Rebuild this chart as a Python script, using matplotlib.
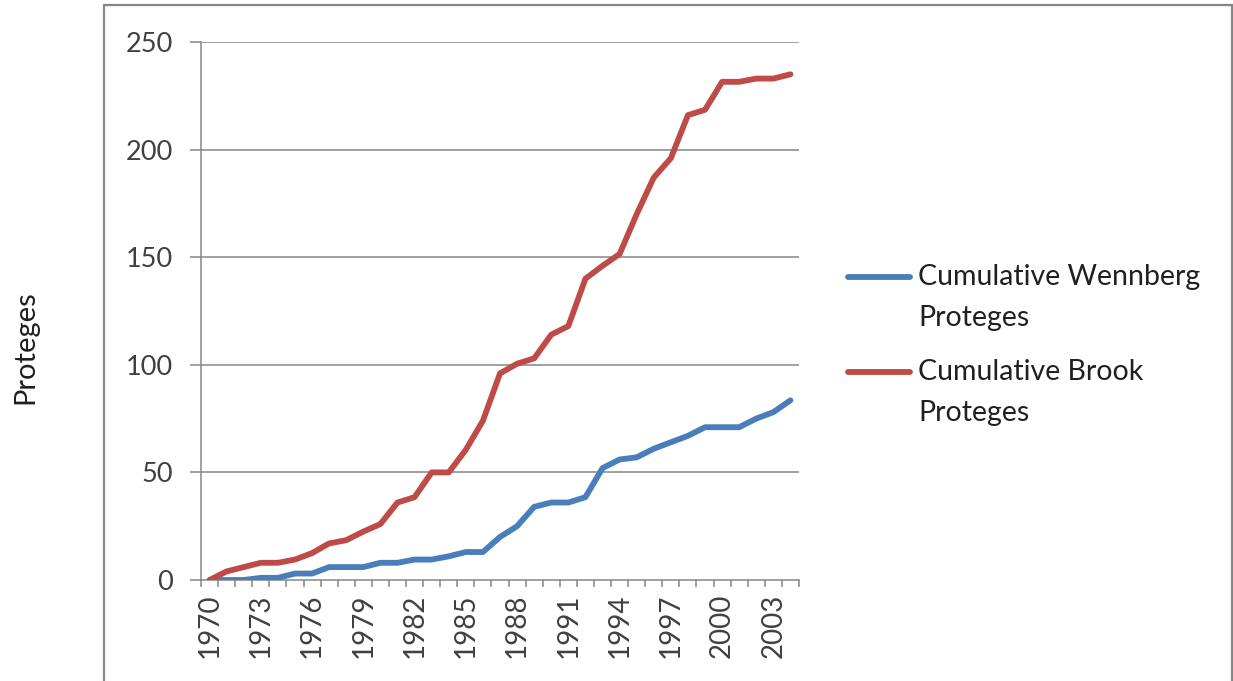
import matplotlib
matplotlib.use("Agg")
import matplotlib.pyplot as plt
from matplotlib.lines import Line2D
from matplotlib.patches import Rectangle
import numpy as np

plt.rcParams['font.family'] = ['Lato', 'DejaVu Sans']

years = list(range(1970, 2005))
wennberg = [0, 0, 0, 1, 1, 3, 3, 6, 6, 6, 8, 8, 9.5, 9.5, 11, 13, 13, 20, 25,
            34, 36, 36, 38.5, 52, 56, 57, 61, 64, 67, 71, 71, 71, 75, 78, 83.5]
brook = [0, 4, 6, 8, 8, 9.5, 12.5, 17, 18.5, 22.5, 26, 36, 38.5, 50, 50, 60.5,
         74, 96, 100.5, 103, 114, 118, 140, 146, 151.5, 170, 187, 196, 216,
         218.5, 231.5, 231.5, 233, 233, 235]
labels = ["Cumulative Wennberg\nProteges", "Cumulative Brook\nProteges"]
colors = ["#4A7EBB", "#BE4B48"]
yticks = [0, 50, 100, 150, 200, 250]
label_years = years[::3]

W, H = 1233, 681
fig = plt.figure(figsize=(W / 100, H / 100), dpi=100)
ax = fig.add_axes([201 / W, 1 - 580 / H, (799 - 201) / W, (580 - 42) / H])

grey = "#868686"
for y in yticks[1:]:
    ax.axhline(y, color=grey, lw=1.1, zorder=1)

ax.plot(years, wennberg, color=colors[0], lw=4.2, solid_capstyle="round",
        solid_joinstyle="round", zorder=3)
ax.plot(years, brook, color=colors[1], lw=4.2, solid_capstyle="round",
        solid_joinstyle="round", zorder=3)

ax.set_xlim(years[0] - 0.5, years[-1] + 0.5)
ax.set_ylim(0, 250)
for side in ("top", "right"):
    ax.spines[side].set_visible(False)
for side in ("left", "bottom"):
    ax.spines[side].set_color(grey)
    ax.spines[side].set_linewidth(1.1)

ax.set_yticks(yticks)
ax.tick_params(axis="y", length=8, width=1.1, color=grey, pad=12,
               labelsize=19.5, labelcolor="#404040")
ax.set_xticks(label_years)
ax.set_xticklabels([str(y) for y in label_years], rotation=90)
ax.set_xticks(np.arange(years[0] - 0.5, years[-1] + 1), minor=True)
ax.tick_params(axis="x", which="major", length=0, pad=10,
               labelsize=20, labelcolor="#404040")
ax.tick_params(axis="x", which="minor", length=5, width=1.1, color=grey)

# outer chart frame
fig.add_artist(Rectangle((104 / W, -0.05), (1232 - 104) / W, 1.05 - 5 / H,
                         transform=fig.transFigure, fill=False,
                         edgecolor=grey, lw=1.6))

fig.text(25 / W, 1 - 347 / H, "Proteges", rotation=90, ha="center",
         va="center", fontsize=21, color="#202020")

# legend, drawn by hand so the line sits beside the first text line
for i, (lab, c) in enumerate(zip(labels, colors)):
    y0 = 277 + 95 * i
    fig.add_artist(Line2D([848 / W, 910 / W], [1 - y0 / H, 1 - y0 / H],
                          color=c, lw=4.2, solid_capstyle="round",
                          transform=fig.transFigure))
    for j, part in enumerate(lab.split("\n")):
        fig.text(918 / W, 1 - (y0 + 41 * j) / H, part, ha="left",
                 va="center", fontsize=20.5, color="#202020")

fig.savefig("out.png", dpi=100)
